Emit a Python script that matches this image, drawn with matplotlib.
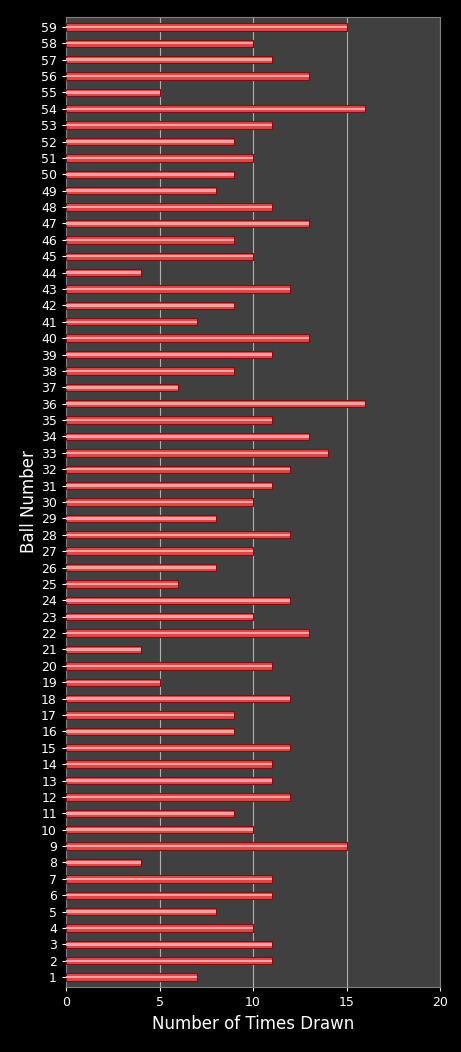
import matplotlib
matplotlib.use("Agg")
import matplotlib.pyplot as plt

balls = list(range(1, 60))
counts = [7,11,11,10,8,11,11,4,15,10,9,12,11,11,12,9,9,12,5,11,4,13,10,12,6,8,10,12,8,10,
          11,12,14,13,11,16,6,9,11,13,7,9,12,4,10,9,13,11,8,9,10,9,11,16,5,13,11,10,15]

W, H = 461, 1052
fig = plt.figure(figsize=(W/100, H/100), dpi=100, facecolor="black")
ax = fig.add_axes([66/W, 1-987/H, (440-66)/W, (987-17)/H])
ax.set_facecolor("#404040")
ax.barh(balls, counts, height=0.45, color="#e04848", edgecolor="#7a1010", linewidth=0.8, zorder=3)
ax.barh(balls, counts, height=0.15, color="#f4a0a0", linewidth=0, zorder=4)
ax.set_xlim(0, 20)
ax.set_ylim(0.4, 59.6)
ax.set_xticks([0, 5, 10, 15, 20])
ax.set_yticks(balls)
ax.set_yticklabels([str(b) for b in balls])
ax.xaxis.grid(True, color="#b0b0b0", linewidth=0.8, zorder=1)
ax.tick_params(colors="white", labelsize=9, length=3)
for s in ax.spines.values():
    s.set_color("#808080")
ax.set_xlabel("Number of Times Drawn", color="white", fontsize=12)
ax.set_ylabel("Ball Number", color="white", fontsize=12, labelpad=2)
fig.savefig("out.png", dpi=100, facecolor="black")
